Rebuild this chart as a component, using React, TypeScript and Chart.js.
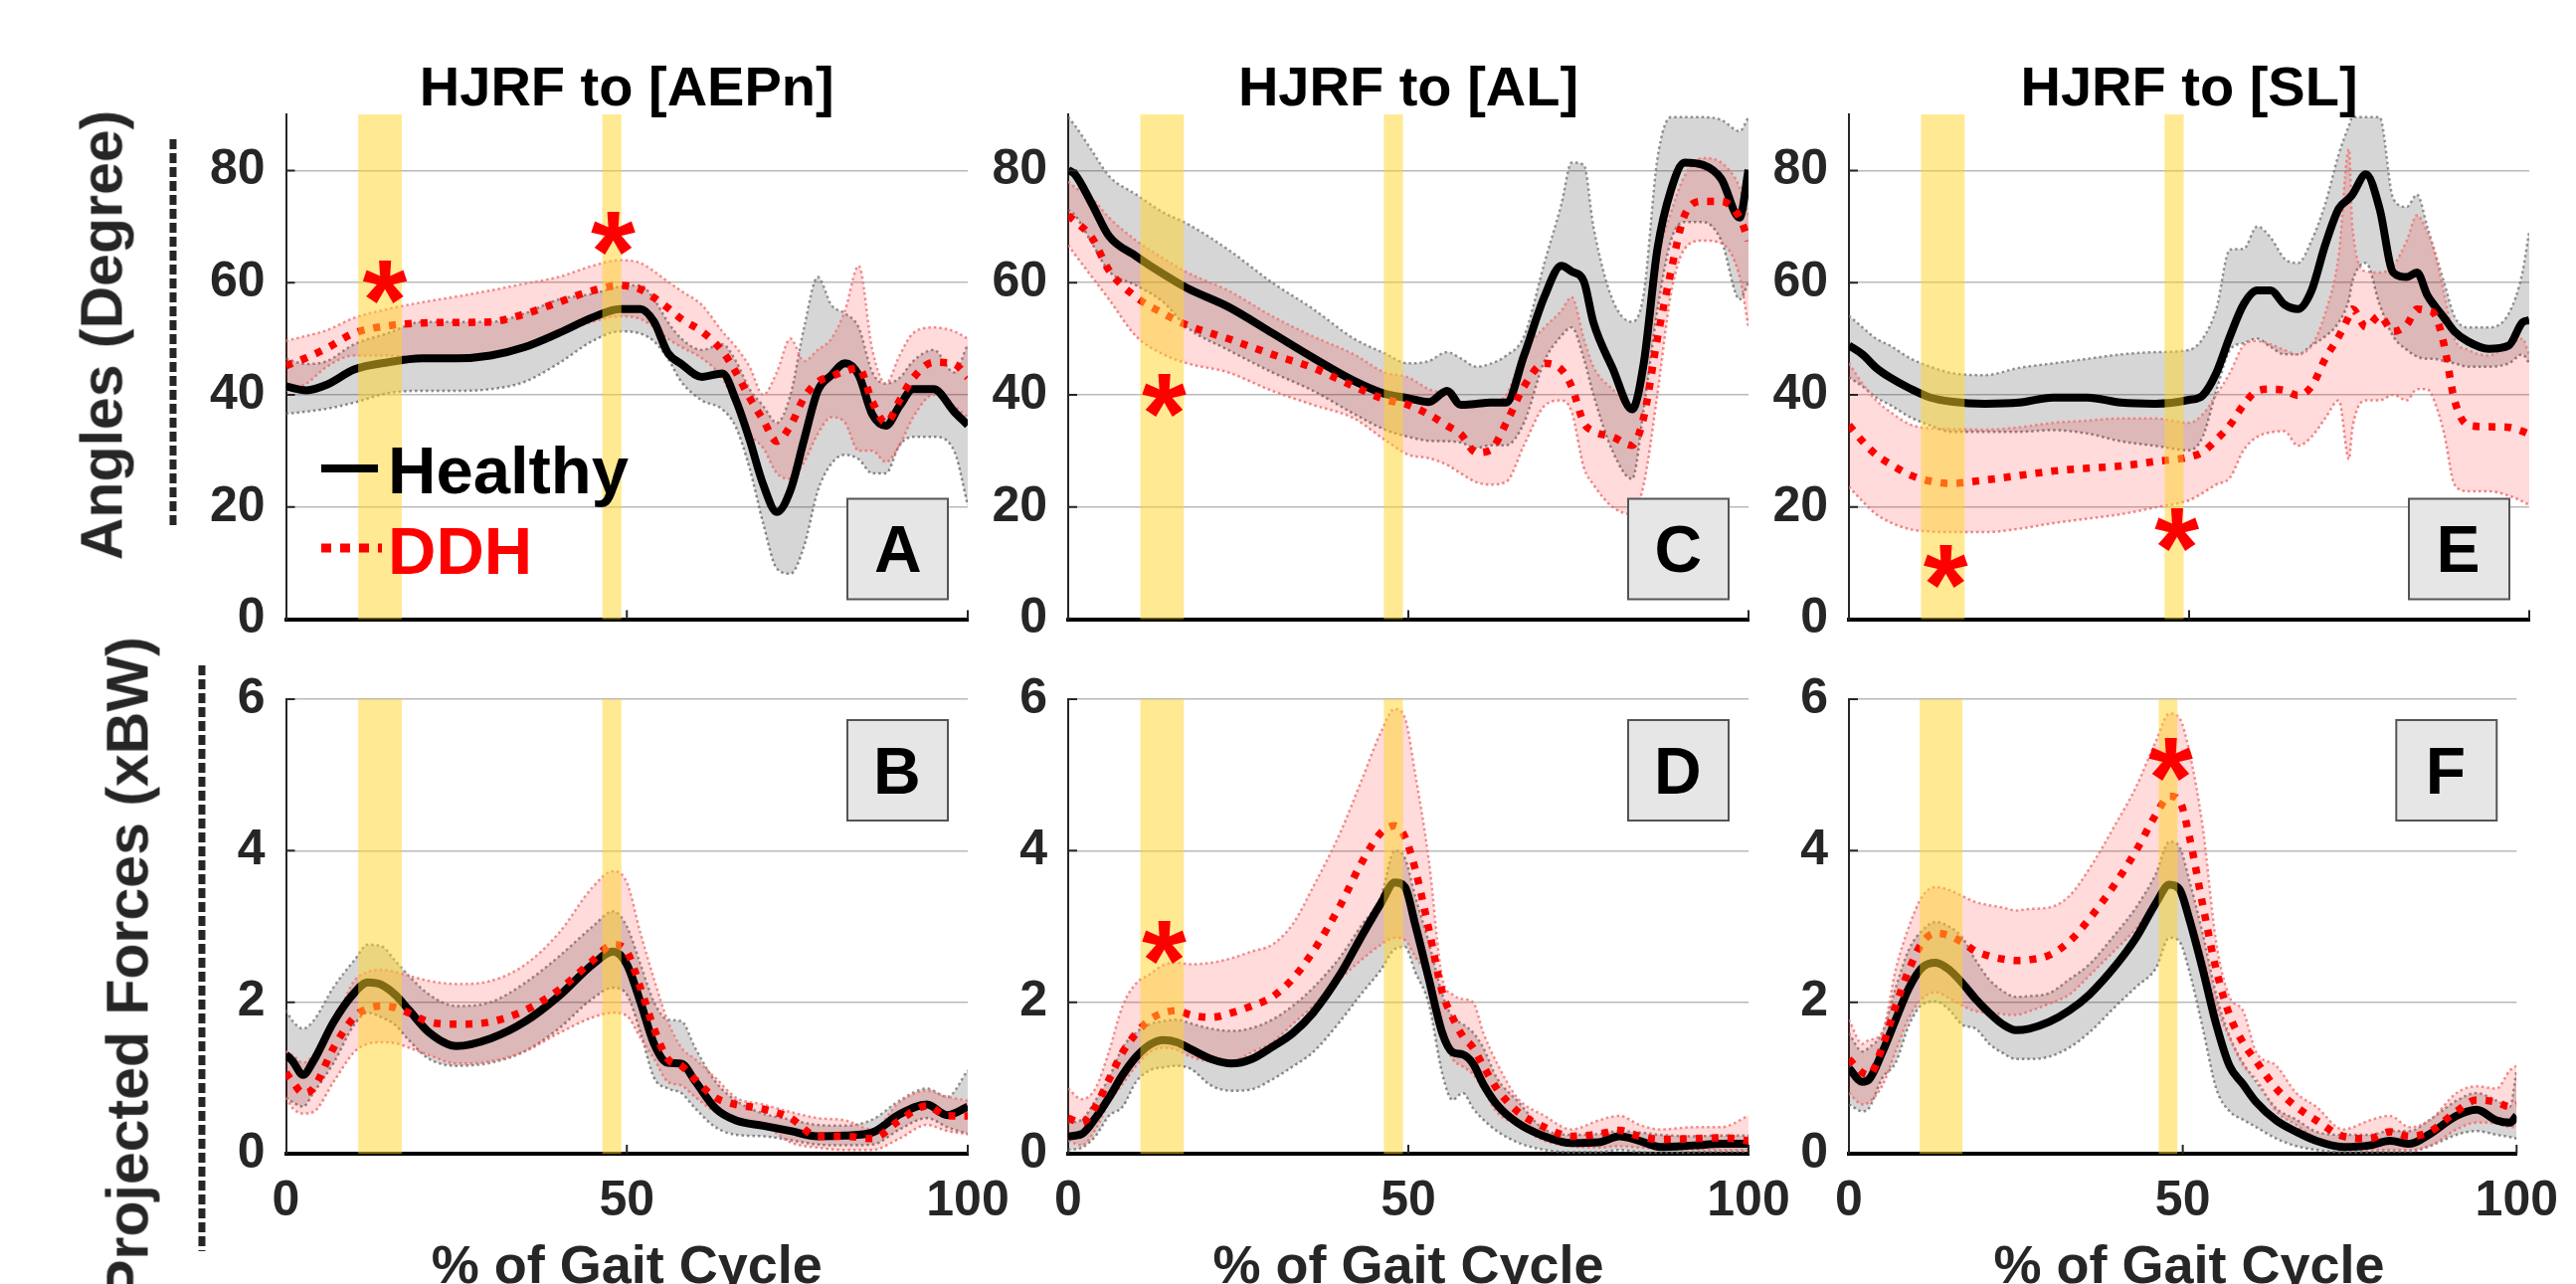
import React, { useEffect, useRef } from "react";
import { Chart, registerables } from "chart.js";

Chart.register(...registerables);

const FIG_W = 2590;
const FIG_H = 1291;
const FONT = "'Liberation Sans', Arial, Helvetica, sans-serif";
Chart.defaults.font.family = FONT;

// ---------------- text ----------------
const columnTitles = ["HJRF to [AEPn]", "HJRF to [AL]", "HJRF to [SL]"];
const rowTitles = ["Angles (Degree)", "Projected Forces (xBW)"];
const xAxisLabel = "% of Gait Cycle";
const legendLabels = ["Healthy", "DDH"];
const panelLetters = ["A", "B", "C", "D", "E", "F"];

// ---------------- shaded gait windows (% gait cycle) ----------------
const shadeStart = [10.6, 46.4];
const shadeEnd = [17.0, 49.2];

// ---------------- Panel A : angle to AEPn ----------------
const xA = [0, 3, 6, 10, 15, 20, 25, 30, 35, 40, 45, 49, 52, 54, 56, 58, 61, 64, 66, 68, 70, 72, 74, 76, 78, 80, 82, 84, 86, 88, 90, 92, 95, 98, 100];
const healthyMeanA = [41.5, 40.8, 41.8, 44.5, 45.8, 46.5, 46.5, 47, 48.5, 51, 53.8, 55.3, 55.3, 53, 47.5, 45.5, 43.2, 43.8, 39, 32, 24, 19.1, 23, 32, 40.7, 43.5, 45.6, 43.5, 36.5, 34.5, 38, 41, 41, 37, 34.6];
const healthyHiA = [46.4, 45.5, 46, 49, 51, 53, 53, 53, 54.5, 57, 58, 59.3, 59.5, 57, 53, 50, 48, 49, 46, 41, 38, 35, 40, 52, 61, 56, 54.5, 52, 44, 42, 43, 46, 48, 44, 49];
const healthyLoA = [36.6, 37, 37.5, 38.6, 40.3, 40.7, 40.7, 41, 42.3, 45.6, 49.6, 51.3, 50.9, 49.5, 46.5, 42.3, 39, 37.4, 34.2, 26.9, 17, 9, 8.1, 13, 22.8, 27.7, 29.3, 28.5, 26, 26, 31, 32.5, 32.5, 30, 20.3];
const ddhMeanA = [45.2, 46.6, 48.3, 51, 52.3, 52.8, 52.9, 53, 54.4, 56.5, 58.6, 59.5, 58.8, 57.3, 55.5, 53.5, 51.3, 47.8, 44, 39.5, 35.5, 31.7, 34.5, 39.5, 42.3, 43.3, 44.2, 44.8, 38.8, 35, 39, 43, 45.8, 45.5, 43.1];
const ddhHiA = [49.6, 50.5, 51.5, 53.7, 55.3, 56.5, 57.5, 58.6, 59.8, 61, 63, 64, 63.5, 62, 60.2, 58.5, 56, 51.3, 48.5, 45, 40, 44, 50, 46, 48, 50, 55, 63, 48, 42, 47, 51, 52, 51.3, 50];
const ddhLoA = [40.8, 42, 45, 47, 47, 46.5, 46.5, 47, 48.5, 51, 53, 54, 53.5, 52, 50, 48.5, 46.5, 43, 38, 33, 30.5, 26, 25, 28, 33, 36, 35, 30, 30, 28, 31, 36, 40, 38, 36];
const starXA = [14.5, 48];
const starYA = [60.2, 68.8];

// ---------------- Panel B : force on AEPn ----------------
const xB = [0, 1, 2.5, 4, 7, 10, 12, 14, 16, 18, 21, 25, 30, 35, 40, 45, 48, 50, 52, 54, 56, 58, 60, 63, 66, 70, 74, 78, 82, 86, 90, 94, 97, 100];
const healthyMeanB = [1.31, 1.22, 1.04, 1.22, 1.74, 2.12, 2.26, 2.23, 2.1, 1.9, 1.6, 1.42, 1.52, 1.74, 2.08, 2.5, 2.67, 2.5, 2.0, 1.45, 1.2, 1.19, 0.96, 0.6, 0.44, 0.37, 0.3, 0.23, 0.24, 0.28, 0.52, 0.65, 0.51, 0.62];
const healthyHiB = [1.89, 1.75, 1.65, 1.75, 2.2, 2.55, 2.76, 2.74, 2.55, 2.35, 2.1, 1.95, 2.0, 2.25, 2.6, 3.0, 3.2, 3.0, 2.5, 2.0, 1.77, 1.75, 1.4, 0.95, 0.7, 0.53, 0.45, 0.38, 0.37, 0.45, 0.7, 0.86, 0.75, 1.1];
const healthyLoB = [0.74, 0.68, 0.62, 0.8, 1.2, 1.7, 1.86, 1.8, 1.7, 1.5, 1.25, 1.16, 1.2, 1.35, 1.65, 2.05, 2.19, 2.1, 1.6, 1.0, 0.86, 0.8, 0.6, 0.35, 0.25, 0.23, 0.18, 0.12, 0.11, 0.12, 0.32, 0.47, 0.35, 0.26];
const ddhMeanB = [1.07, 0.95, 0.8, 0.86, 1.4, 1.8, 1.92, 1.95, 1.93, 1.86, 1.74, 1.71, 1.74, 1.89, 2.16, 2.55, 2.76, 2.67, 2.19, 1.65, 1.25, 1.16, 0.98, 0.74, 0.65, 0.59, 0.47, 0.23, 0.23, 0.2, 0.44, 0.63, 0.5, 0.5];
const ddhHiB = [1.35, 1.3, 1.2, 1.3, 1.7, 2.28, 2.4, 2.43, 2.4, 2.35, 2.28, 2.24, 2.28, 2.49, 2.91, 3.52, 3.73, 3.58, 2.91, 2.3, 1.75, 1.4, 1.25, 1.0, 0.74, 0.65, 0.55, 0.47, 0.44, 0.32, 0.68, 0.83, 0.75, 0.7];
const ddhLoB = [0.74, 0.6, 0.53, 0.55, 0.95, 1.34, 1.45, 1.47, 1.46, 1.4, 1.3, 1.19, 1.22, 1.35, 1.59, 1.8, 1.86, 1.82, 1.53, 1.25, 0.95, 0.9, 0.75, 0.55, 0.44, 0.38, 0.15, 0.08, 0.05, 0.05, 0.2, 0.38, 0.3, 0.26];
const starXB: number[] = [];
const starYB: number[] = [];

// ---------------- Panel C : angle to AL ----------------
const xC = [0, 1, 3.5, 6, 10, 14, 17.5, 23.5, 30, 36, 42, 46.5, 50, 53, 55.7, 57.7, 60, 62, 64.4, 67, 70, 72.5, 74, 75.8, 77.2, 80, 82.9, 84.6, 86.6, 88.6, 90.6, 93.3, 96, 98.7, 100];
const healthyMeanC = [80.1, 79.3, 74, 68.3, 64.7, 61.5, 59, 55.7, 51, 46.6, 42.5, 40.2, 39.4, 38.7, 40.7, 38.2, 38.4, 38.6, 38.6, 47, 57.5, 63, 62, 60.2, 52.9, 44.8, 37.4, 45.6, 65.9, 76.5, 81.4, 81, 78.5, 71.6, 80.1];
const healthyHiC = [89.5, 88, 83.5, 79, 75.7, 72.5, 70.5, 65.9, 60, 55.3, 50, 47.4, 45.6, 46, 47.6, 46.5, 45, 45.5, 47, 50.4, 63.5, 74, 81.4, 81, 70, 57, 53, 58, 82, 89.5, 89.5, 89.5, 89, 87, 89.5];
const healthyLoC = [73, 72, 67, 62, 59.5, 56.5, 52, 48, 44, 40.7, 36.6, 33.8, 32.5, 31.8, 31.7, 31.5, 30.5, 31, 31, 35, 46, 50.5, 52, 46.4, 40, 30, 25, 37.4, 55, 67.5, 70.8, 70.8, 67.5, 57, 60];
const ddhMeanC = [72, 71, 68, 62.2, 57.4, 54.5, 52.4, 50, 47.2, 44.8, 41.5, 39.2, 38.2, 36.5, 34.5, 33, 29.7, 30.1, 35, 41.5, 45.6, 44.5, 41.5, 35, 33.5, 32.5, 31, 36, 50, 62, 72, 74.5, 74.5, 71.6, 67.5];
const ddhHiC = [78, 77, 75, 71.6, 67.5, 64.3, 61.8, 58.6, 54, 50.4, 47.2, 44, 43.1, 41, 40, 38.5, 38, 38.5, 40, 47.6, 52, 55, 57.4, 50, 45, 41, 38, 48, 64, 72.5, 79, 82.2, 81.4, 77, 72];
const ddhLoC = [66.7, 65, 61, 57, 50.4, 47.2, 45.6, 44, 40.7, 38.2, 35.8, 32, 29.3, 28.7, 27.5, 26, 24.4, 24, 24.5, 31, 38, 39, 37, 27, 24, 20, 18.7, 24, 40, 58, 66, 67.5, 67, 61, 52];
const starXC = [14.1];
const starYC = [39.9];

// ---------------- Panel D : force on AL ----------------
const xD = [0, 2, 4, 6, 8, 10, 12, 14, 16, 18, 21, 24, 27, 30, 33, 36, 40, 43, 46, 48, 49.5, 51, 53, 55, 56.5, 58, 59.5, 61, 63, 66, 70, 74, 78, 81, 84, 87, 92, 96, 100];
const healthyMeanD = [0.23, 0.26, 0.47, 0.74, 1.04, 1.28, 1.44, 1.5, 1.47, 1.38, 1.25, 1.19, 1.25, 1.41, 1.59, 1.86, 2.37, 2.85, 3.31, 3.58, 3.52, 3.03, 2.31, 1.59, 1.34, 1.31, 1.19, 0.92, 0.65, 0.41, 0.23, 0.14, 0.15, 0.23, 0.17, 0.09, 0.11, 0.13, 0.13];
const healthyHiD = [0.41, 0.45, 0.7, 1.0, 1.4, 1.6, 1.71, 1.75, 1.77, 1.72, 1.65, 1.62, 1.66, 1.77, 1.95, 2.19, 2.6, 3.0, 3.4, 4.0, 3.9, 3.4, 2.79, 2.1, 1.8, 1.71, 1.6, 1.4, 1.0, 0.7, 0.32, 0.25, 0.26, 0.3, 0.28, 0.25, 0.23, 0.24, 0.24];
const healthyLoD = [0.05, 0.08, 0.23, 0.5, 0.62, 0.95, 1.1, 1.14, 1.16, 1.12, 0.9, 0.83, 0.85, 0.98, 1.15, 1.34, 1.75, 2.1, 2.43, 2.7, 2.73, 2.4, 1.98, 1.05, 0.71, 0.8, 0.6, 0.45, 0.3, 0.15, 0.05, 0.02, 0.02, 0.05, 0.02, 0.01, 0.02, 0.03, 0.03];
const ddhMeanD = [0.47, 0.41, 0.62, 0.98, 1.34, 1.59, 1.77, 1.86, 1.89, 1.83, 1.8, 1.86, 1.95, 2.07, 2.31, 2.67, 3.28, 3.82, 4.24, 4.33, 4.18, 3.76, 2.97, 2.13, 1.8, 1.55, 1.4, 1.16, 0.86, 0.56, 0.35, 0.23, 0.26, 0.31, 0.23, 0.19, 0.2, 0.21, 0.17];
const ddhHiD = [0.86, 0.72, 0.86, 1.35, 1.95, 2.25, 2.37, 2.49, 2.52, 2.5, 2.52, 2.58, 2.67, 2.76, 3.03, 3.52, 4.24, 4.9, 5.57, 5.87, 5.75, 5.02, 3.88, 2.31, 2.1, 2.04, 2.0, 1.6, 1.2, 0.74, 0.5, 0.32, 0.44, 0.5, 0.38, 0.32, 0.35, 0.35, 0.5];
const ddhLoD = [0.17, 0.11, 0.32, 0.67, 0.92, 1.16, 1.34, 1.4, 1.37, 1.28, 1.22, 1.22, 1.34, 1.47, 1.71, 1.95, 2.31, 2.55, 2.76, 2.85, 2.82, 2.6, 2.3, 1.6, 1.25, 1.15, 1.05, 0.85, 0.55, 0.38, 0.17, 0.1, 0.08, 0.1, 0.08, 0.06, 0.05, 0.05, 0.05];
const starXD = [14.1];
const starYD = [2.79];

// ---------------- Panel E : angle to SL ----------------
const xE = [0, 2, 4, 6, 9, 12, 15, 20, 25, 30, 35, 40, 45, 50, 52, 54, 56, 58, 60, 62, 64, 66, 68, 70, 72, 73.5, 74, 76, 78, 80, 82, 83.5, 85, 86, 87.5, 89, 91, 94, 97, 99, 100];
const healthyMeanE = [48.8, 47.2, 44.8, 43.1, 41.1, 39.5, 38.8, 38.4, 38.6, 39.5, 39.5, 38.6, 38.4, 39.1, 39.9, 43.9, 50.4, 56.1, 58.6, 58.6, 56.1, 55.3, 58.6, 66.7, 73.2, 75, 75.7, 79.3, 73.2, 61.8, 61, 61.8, 57.8, 56, 53.7, 51.3, 49.5, 48.2, 48.8, 52.9, 53.3];
const healthyHiE = [54.1, 52, 50, 48.8, 46.5, 45, 43.9, 43.5, 44.8, 45.6, 46.4, 47.2, 47.6, 48, 50, 55.3, 65.9, 66, 70, 68, 64.3, 63.5, 67.5, 74, 82.9, 88, 89.5, 89.5, 89.5, 75, 73.5, 75.7, 70, 65.9, 60, 54, 52, 52, 54.5, 61.8, 69.2];
const healthyLoE = [43.1, 41.5, 39.5, 38.2, 36, 34.5, 33.4, 33.4, 33.4, 33.7, 33.1, 31.7, 30.9, 30.1, 32.5, 40.7, 48, 49.2, 50, 48.5, 47.2, 47.2, 48.8, 50.4, 52.9, 57, 60.2, 63.5, 56.1, 50.4, 48, 46.8, 46.4, 46.4, 46, 45.6, 45, 45, 45.6, 47.2, 45.6];
const ddhMeanE = [34.6, 31.7, 29.3, 27.7, 25.7, 24.6, 24.2, 24.8, 25.6, 26.4, 26.9, 27.3, 28.1, 28.9, 29.8, 32, 34.6, 38.2, 40.7, 41, 40.8, 39.9, 41.5, 46.4, 50.4, 54, 55.3, 52.1, 54.1, 51.3, 52.5, 55.3, 55, 54.5, 48.8, 39.1, 34.6, 34.3, 34.2, 33.5, 33];
const ddhHiE = [45.6, 42, 39, 37, 34.7, 34, 33.9, 33.8, 34.2, 35, 35.4, 35.8, 35.8, 35, 36.5, 40, 43.9, 48.8, 49.6, 49, 48, 47.2, 48.8, 54.5, 65, 83.8, 70, 62, 61.8, 63, 67.5, 72, 69, 65.9, 58, 50, 48, 47, 48.8, 50, 47];
const ddhLoE = [23.6, 21, 18.7, 17.3, 16, 15.6, 15.5, 15.5, 16.1, 17.1, 17.9, 18.7, 19.9, 21.2, 22.5, 24, 25.2, 30.1, 32.5, 33.3, 33.5, 30.9, 32.5, 35.8, 39, 28.5, 34, 39, 39, 40, 39, 41, 41, 39, 33, 24, 22.8, 22.8, 22, 21, 20.3];
const starXE = [14.2, 48.2];
const starYE = [9.4, 15.9];

// ---------------- Panel F : force on SL ----------------
const xF = [0, 2, 3, 5, 7, 9, 11, 13, 15, 17, 19, 21, 23, 25, 27, 30, 33, 36, 40, 43, 46, 48, 49.5, 51, 53, 55, 57, 59, 61, 64, 67, 70, 74, 78, 81, 84, 87, 91, 94, 97, 99, 100];
const healthyMeanF = [1.13, 0.95, 0.98, 1.34, 1.77, 2.19, 2.46, 2.52, 2.43, 2.25, 2.04, 1.86, 1.71, 1.63, 1.65, 1.74, 1.89, 2.1, 2.49, 2.85, 3.31, 3.55, 3.49, 3.09, 2.43, 1.71, 1.16, 0.92, 0.68, 0.44, 0.29, 0.17, 0.09, 0.11, 0.17, 0.13, 0.26, 0.5, 0.58, 0.44, 0.41, 0.5];
const healthyHiF = [1.59, 1.35, 1.4, 1.6, 2.19, 2.7, 2.95, 3.06, 3.0, 2.85, 2.55, 2.3, 2.15, 2.07, 2.08, 2.12, 2.3, 2.5, 2.91, 3.25, 3.7, 4.12, 4.05, 3.6, 2.9, 2.1, 1.55, 1.2, 0.95, 0.6, 0.45, 0.29, 0.25, 0.25, 0.3, 0.3, 0.45, 0.7, 0.8, 0.7, 0.62, 1.1];
const healthyLoF = [0.65, 0.56, 0.6, 1.0, 1.2, 1.7, 1.97, 2.01, 1.9, 1.7, 1.65, 1.45, 1.33, 1.25, 1.25, 1.28, 1.4, 1.6, 1.95, 2.2, 2.45, 2.85, 2.8, 2.4, 1.65, 0.86, 0.56, 0.45, 0.35, 0.2, 0.1, 0.05, 0.02, 0.02, 0.03, 0.03, 0.1, 0.25, 0.3, 0.25, 0.22, 0.2];
const ddhMeanF = [1.25, 1.07, 1.04, 1.41, 1.95, 2.43, 2.79, 2.91, 2.88, 2.79, 2.67, 2.61, 2.57, 2.55, 2.56, 2.62, 2.8, 3.1, 3.58, 4.0, 4.48, 4.72, 4.66, 4.18, 3.28, 2.43, 1.83, 1.47, 1.22, 0.86, 0.62, 0.44, 0.23, 0.2, 0.29, 0.23, 0.29, 0.56, 0.71, 0.68, 0.62, 0.65];
const ddhHiF = [1.77, 1.45, 1.5, 1.6, 2.43, 3.0, 3.4, 3.52, 3.48, 3.4, 3.32, 3.28, 3.25, 3.21, 3.23, 3.25, 3.4, 3.76, 4.36, 4.84, 5.45, 5.81, 5.75, 5.3, 4.3, 2.79, 2.07, 1.89, 1.34, 1.16, 0.8, 0.62, 0.32, 0.44, 0.5, 0.35, 0.44, 0.8, 0.89, 0.86, 1.1, 1.16];
const ddhLoF = [0.8, 0.65, 0.68, 0.9, 1.35, 1.8, 2.05, 2.13, 2.05, 1.95, 1.88, 1.86, 1.84, 1.83, 1.88, 1.98, 2.1, 2.35, 2.7, 2.97, 3.34, 3.58, 3.52, 3.2, 2.6, 1.95, 1.53, 1.17, 0.98, 0.56, 0.38, 0.2, 0.08, 0.05, 0.05, 0.05, 0.1, 0.32, 0.41, 0.4, 0.35, 0.35];
const starXF = [48.2];
const starYF = [5.2];

// ---------------- axis ranges ----------------
const angleMax = 90;
const angleStep = 20;
const forceMax = 6;
const forceStep = 2;
const xTickStep = 50;

// ---------------- layout (pixels) ----------------
const colLeft = [287.5, 1074, 1859];
const colRight = [973, 1758, 2543];
const rowTop = [115, 703];
const rowBottom = [622.5, 1160];
const rowBracketX = [174, 203];
const rowBracketTop = [140, 669];
const rowBracketBottom = [529, 1258];

// ---------------- styles ----------------
const SHADE = "rgba(255, 212, 40, 0.5)";
const GRAY_FILL = "rgba(0, 0, 0, 0.16)";
const GRAY_EDGE = "rgba(120, 120, 120, 0.8)";
const PINK_FILL = "rgba(255, 0, 0, 0.14)";
const PINK_EDGE = "rgba(240, 120, 120, 0.85)";
const AXIS_COLOR = "#262626";

type Panel = {
  letter: string;
  col: number;
  row: number;
  x: number[];
  hMean: number[];
  hHi: number[];
  hLo: number[];
  dMean: number[];
  dHi: number[];
  dLo: number[];
  starX: number[];
  starY: number[];
  yMax: number;
  yStep: number;
  legend: boolean;
};

const panels: Panel[] = [
  { letter: panelLetters[0], col: 0, row: 0, x: xA, hMean: healthyMeanA, hHi: healthyHiA, hLo: healthyLoA, dMean: ddhMeanA, dHi: ddhHiA, dLo: ddhLoA, starX: starXA, starY: starYA, yMax: angleMax, yStep: angleStep, legend: true },
  { letter: panelLetters[1], col: 0, row: 1, x: xB, hMean: healthyMeanB, hHi: healthyHiB, hLo: healthyLoB, dMean: ddhMeanB, dHi: ddhHiB, dLo: ddhLoB, starX: starXB, starY: starYB, yMax: forceMax, yStep: forceStep, legend: false },
  { letter: panelLetters[2], col: 1, row: 0, x: xC, hMean: healthyMeanC, hHi: healthyHiC, hLo: healthyLoC, dMean: ddhMeanC, dHi: ddhHiC, dLo: ddhLoC, starX: starXC, starY: starYC, yMax: angleMax, yStep: angleStep, legend: false },
  { letter: panelLetters[3], col: 1, row: 1, x: xD, hMean: healthyMeanD, hHi: healthyHiD, hLo: healthyLoD, dMean: ddhMeanD, dHi: ddhHiD, dLo: ddhLoD, starX: starXD, starY: starYD, yMax: forceMax, yStep: forceStep, legend: false },
  { letter: panelLetters[4], col: 2, row: 0, x: xE, hMean: healthyMeanE, hHi: healthyHiE, hLo: healthyLoE, dMean: ddhMeanE, dHi: ddhHiE, dLo: ddhLoE, starX: starXE, starY: starYE, yMax: angleMax, yStep: angleStep, legend: false },
  { letter: panelLetters[5], col: 2, row: 1, x: xF, hMean: healthyMeanF, hHi: healthyHiF, hLo: healthyLoF, dMean: ddhMeanF, dHi: ddhHiF, dLo: ddhLoF, starX: starXF, starY: starYF, yMax: forceMax, yStep: forceStep, legend: false },
];

const pts = (xs: number[], ys: number[]) => xs.map((x, i) => ({ x, y: ys[i] }));

function centeredText(ctx: any, text: string, cx: number, cy: number) {
  const m = ctx.measureText(text);
  ctx.textAlign = "left";
  ctx.textBaseline = "alphabetic";
  ctx.fillText(
    text,
    cx - (m.actualBoundingBoxRight - m.actualBoundingBoxLeft) / 2,
    cy + (m.actualBoundingBoxAscent - m.actualBoundingBoxDescent) / 2
  );
}

function makeDecor(p: Panel) {
  return {
    id: "decor" + p.letter,
    afterDatasetsDraw(chart: any) {
      const { ctx, chartArea: a } = chart;
      const xs = chart.scales.x;
      const ys = chart.scales.y;
      ctx.save();
      ctx.fillStyle = SHADE;
      shadeStart.forEach((s, i) => {
        const x0 = xs.getPixelForValue(s);
        const x1 = xs.getPixelForValue(shadeEnd[i]);
        ctx.fillRect(x0, a.top, x1 - x0, a.bottom - a.top);
      });
      ctx.strokeStyle = AXIS_COLOR;
      ctx.lineWidth = 2;
      ctx.setLineDash([]);
      ctx.beginPath();
      ys.ticks.forEach((t: any) => {
        if (t.value === 0) return;
        const y = ys.getPixelForValue(t.value);
        ctx.moveTo(a.left, y);
        ctx.lineTo(a.left + 9, y);
      });
      xs.ticks.forEach((t: any) => {
        if (t.value === 0) return;
        const x = xs.getPixelForValue(t.value);
        ctx.moveTo(x, a.bottom);
        ctx.lineTo(x, a.bottom - 9);
      });
      ctx.stroke();
      ctx.fillStyle = "#ff0000";
      ctx.font = `bold 100px ${FONT}`;
      const m0 = ctx.measureText("*");
      const w0 = m0.actualBoundingBoxLeft + m0.actualBoundingBoxRight || 33;
      const starSize = (100 * 45) / w0;
      ctx.font = `bold ${starSize}px ${FONT}`;
      p.starX.forEach((sx, i) => {
        centeredText(ctx, "*", xs.getPixelForValue(sx), ys.getPixelForValue(p.starY[i]));
      });
      const bw = 101;
      const bx = a.right - 20 - bw;
      const by = p.row === 0 ? a.bottom - 20 - bw : a.top + 21;
      ctx.fillStyle = "#e6e6e6";
      ctx.fillRect(bx, by, bw, bw);
      ctx.strokeStyle = "#555555";
      ctx.lineWidth = 2;
      ctx.strokeRect(bx, by, bw, bw);
      ctx.fillStyle = "#000000";
      ctx.font = `bold 66px ${FONT}`;
      centeredText(ctx, p.letter, bx + bw / 2, by + bw / 2);
      if (p.legend) {
        const lx0 = a.left + 35.5;
        const lx1 = a.left + 92.5;
        ctx.lineCap = "butt";
        ctx.strokeStyle = "#000000";
        ctx.lineWidth = 8;
        ctx.setLineDash([]);
        ctx.beginPath();
        ctx.moveTo(lx0, a.top + 356);
        ctx.lineTo(lx1, a.top + 356);
        ctx.stroke();
        ctx.strokeStyle = "#ff0000";
        ctx.lineWidth = 9;
        ctx.setLineDash([10, 9]);
        ctx.beginPath();
        ctx.moveTo(lx0, a.top + 436);
        ctx.lineTo(lx1 + 4, a.top + 436);
        ctx.stroke();
        ctx.setLineDash([]);
        ctx.font = `bold 67px ${FONT}`;
        ctx.textAlign = "left";
        ctx.textBaseline = "alphabetic";
        ctx.fillStyle = "#000000";
        ctx.fillText(legendLabels[0], a.left + 102.5, a.top + 381);
        ctx.fillStyle = "#ff0000";
        ctx.fillText(legendLabels[1], a.left + 102.5, a.top + 462);
      }
      if (p.col === 0) {
        const r = p.row;
        ctx.strokeStyle = AXIS_COLOR;
        ctx.lineWidth = 7;
        ctx.lineCap = "butt";
        ctx.setLineDash([10, 4]);
        ctx.beginPath();
        ctx.moveTo(rowBracketX[r], rowBracketTop[r]);
        ctx.lineTo(rowBracketX[r], rowBracketBottom[r]);
        ctx.stroke();
        ctx.setLineDash([]);
      }
      ctx.restore();
    },
  };
}

function PanelChart({ p }: { p: Panel }) {
  const ref = useRef<HTMLCanvasElement | null>(null);
  useEffect(() => {
    const canvas = ref.current;
    if (!canvas) return;
    const L = colLeft[p.col];
    const R = colRight[p.col];
    const T = rowTop[p.row];
    const B = rowBottom[p.row];
    const yW = 150;
    const xH = p.row === 1 ? 100 : 40;
    const bandLine = (color: string) => ({
      borderColor: color,
      borderWidth: 2.5,
      borderDash: [2.5, 3],
    });
    const chart = new Chart(canvas, {
      type: "line",
      data: {
        datasets: [
          { label: legendLabels[1], data: pts(p.x, p.dMean), borderColor: "#ff0000", borderWidth: 7.5, borderDash: [7, 9], fill: false, order: 1 },
          { label: legendLabels[0], data: pts(p.x, p.hMean), borderColor: "#000000", borderWidth: 8, fill: false, order: 2 },
          { label: "ddhHi", data: pts(p.x, p.dHi), ...bandLine(PINK_EDGE), backgroundColor: PINK_FILL, fill: 3, order: 3 },
          { label: "ddhLo", data: pts(p.x, p.dLo), ...bandLine(PINK_EDGE), fill: false, order: 3 },
          { label: "hHi", data: pts(p.x, p.hHi), ...bandLine(GRAY_EDGE), backgroundColor: GRAY_FILL, fill: 5, order: 4 },
          { label: "hLo", data: pts(p.x, p.hLo), ...bandLine(GRAY_EDGE), fill: false, order: 4 },
        ],
      },
      options: {
        animation: false,
        responsive: false,
        devicePixelRatio: 1,
        events: [],
        layout: {
          padding: { left: L - yW, right: FIG_W - R, top: T, bottom: FIG_H - B - xH },
        },
        plugins: {
          legend: { display: false },
          tooltip: { enabled: false },
          title: { display: false },
        },
        elements: {
          point: { radius: 0 },
          line: { tension: 0.35, cubicInterpolationMode: "monotone", borderCapStyle: "butt", borderJoinStyle: "round" },
        },
        scales: {
          x: {
            type: "linear",
            min: 0,
            max: 100,
            afterFit: (s: any) => {
              s.height = xH;
            },
            ticks: {
              display: p.row === 1,
              stepSize: xTickStep,
              autoSkip: false,
              maxRotation: 0,
              includeBounds: false,
              padding: 18,
              color: AXIS_COLOR,
              font: { family: FONT, size: 50, weight: "bold" },
            },
            grid: { display: false, drawOnChartArea: false, drawTicks: false },
            border: { display: true, color: "#000000", width: 4, dash: [4, 3] },
          },
          y: {
            min: 0,
            max: p.yMax,
            afterFit: (s: any) => {
              s.width = yW;
            },
            ticks: {
              stepSize: p.yStep,
              includeBounds: false,
              padding: 21,
              color: AXIS_COLOR,
              font: { family: FONT, size: 50, weight: "bold" },
            },
            grid: {
              drawTicks: false,
              lineWidth: 1.5,
              color: (c: any) => (c.tick && c.tick.value === 0 ? "rgba(0,0,0,0)" : "#b9b9b9"),
            },
            border: { display: true, color: AXIS_COLOR, width: 2 },
          },
        },
      },
      plugins: [makeDecor(p)],
    } as any);
    return () => chart.destroy();
  }, [p]);
  return (
    <canvas
      ref={ref}
      width={FIG_W}
      height={FIG_H}
      style={{ position: "absolute", left: 0, top: 0, width: FIG_W, height: FIG_H }}
    />
  );
}

const textBase: React.CSSProperties = {
  position: "absolute",
  whiteSpace: "nowrap",
  fontFamily: FONT,
  fontWeight: 700,
  lineHeight: 1,
};

export default function App() {
  useEffect(() => {
    document.body.style.margin = "0";
    document.body.style.overflow = "hidden";
  }, []);
  return (
    <div
      style={{
        position: "absolute",
        left: 0,
        top: 0,
        width: FIG_W,
        height: FIG_H,
        overflow: "hidden",
        background: "#ffffff",
      }}
    >
      {panels.map((p) => (
        <PanelChart key={p.letter} p={p} />
      ))}
      {columnTitles.map((t, i) => (
        <div
          key={"t" + i}
          style={{
            ...textBase,
            fontSize: 56,
            color: "#000000",
            left: (colLeft[i] + colRight[i]) / 2,
            top: 106 - 0.8465 * 56,
            transform: "translateX(-50%)",
          }}
        >
          {t}
        </div>
      ))}
      {columnTitles.map((_, i) => (
        <div
          key={"x" + i}
          style={{
            ...textBase,
            fontSize: 54,
            color: AXIS_COLOR,
            left: (colLeft[i] + colRight[i]) / 2,
            top: 1290 - 0.8465 * 54,
            transform: "translateX(-50%)",
          }}
        >
          {xAxisLabel}
        </div>
      ))}
      {rowTitles.map((t, i) => (
        <div
          key={"r" + i}
          style={{
            ...textBase,
            fontSize: 59,
            color: AXIS_COLOR,
            left: i === 0 ? 102.5 : 128.5,
            top: i === 0 ? 337 : 973,
            transform: "translate(-50%, -50%) rotate(-90deg)",
          }}
        >
          {t}
        </div>
      ))}
    </div>
  );
}
